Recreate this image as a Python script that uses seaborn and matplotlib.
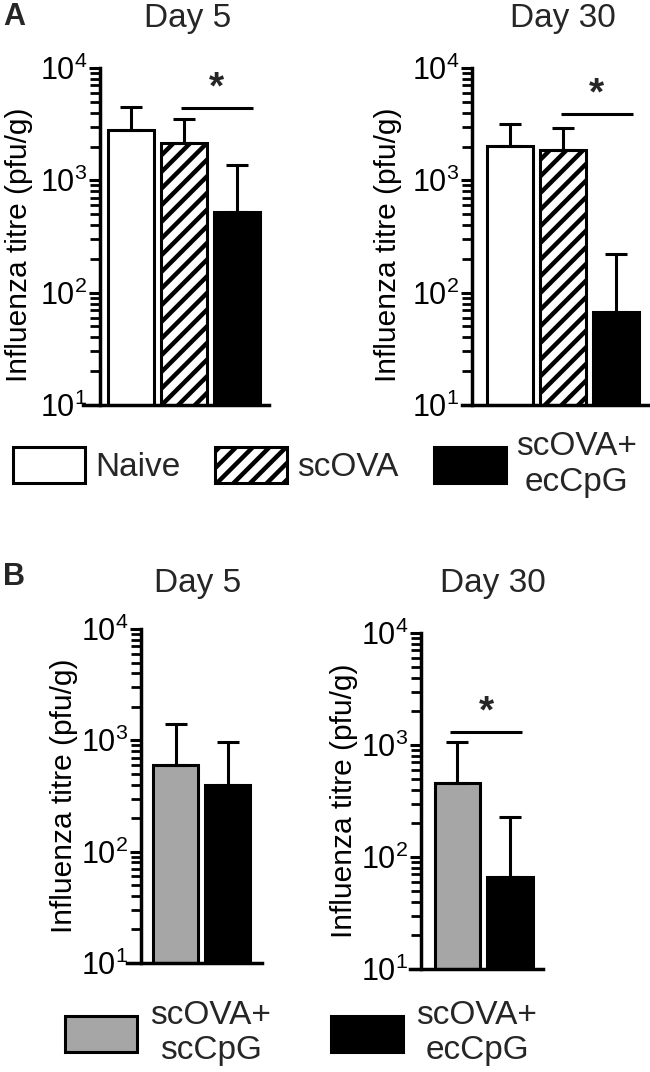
import numpy as np
import matplotlib
matplotlib.use("Agg")
import matplotlib.pyplot as plt
import matplotlib.transforms as mtransforms
from matplotlib.patches import Patch
from matplotlib.ticker import LogLocator, NullFormatter, FuncFormatter
import seaborn as sns

# ── data ───────────────────────────────────────────────────────────────────
groups_a = ["Naive", "scOVA", "scOVA+\necCpG"]
a_day5_mean = [2800, 2150, 525]
a_day5_upper = [4500, 3500, 1380]
a_day30_mean = [2030, 1870, 67]
a_day30_upper = [3180, 2930, 223]

groups_b = ["scOVA+\nscCpG", "scOVA+\necCpG"]
b_day5_mean = [603, 399]
b_day5_upper = [1406, 970]
b_day30_mean = [458, 66]
b_day30_upper = [1064, 228]

# significance bars: (x from, x to, y level)
sig_a5 = (0.93, 2.30, 4400)
sig_a30 = (0.95, 2.31, 3890)
sig_b30 = (-0.14, 1.23, 1306)

# ── style ──────────────────────────────────────────────────────────────────
sns.set_style("ticks")
plt.rcParams["font.family"] = ["Liberation Sans", "DejaVu Sans"]
plt.rcParams["mathtext.default"] = "regular"
plt.rcParams["hatch.linewidth"] = 3.2

FS = 24          # titles, legend
FS_TICK = 22
FS_YLAB = 21.5
LW = 2.2
colors_a = ["white", "white", "black"]
hatches_a = ["", "//", ""]
colors_b = ["#a6a6a6", "black"]
hatches_b = ["", ""]

W, H = 650, 1072
fig = plt.figure(figsize=(W / 100, H / 100), dpi=100)


def px_axes(left, right, top, bottom):
    return fig.add_axes([left / W, 1 - bottom / H, (right - left) / W, (bottom - top) / H])


def draw_panel(ax, groups, means, upper, colors, hatches, xlim, spine_x,
               title, title_x, title_pad, ylab_x, ylab_y, sig=None):
    ax.set_yscale("log")
    sns.barplot(x=groups, y=means, hue=groups, palette=colors, order=groups,
                hue_order=groups, width=0.87, edgecolor="black", linewidth=LW,
                saturation=1, legend=False, ax=ax)
    for patch, h in zip(ax.patches, hatches):
        patch.set_hatch(h)

    pos = np.arange(len(groups))
    means = np.asarray(means, dtype=float)
    upper = np.asarray(upper, dtype=float)
    ax.errorbar(pos, means, yerr=[np.zeros_like(means), upper - means],
                fmt="none", ecolor="black", elinewidth=LW, capsize=8,
                capthick=LW, zorder=3)

    ax.set_ylim(10, 1e4)
    ax.set_xlim(*xlim)
    ax.yaxis.set_major_locator(LogLocator(base=10))
    ax.yaxis.set_minor_locator(LogLocator(base=10, subs=np.arange(2, 10)))
    ax.yaxis.set_minor_formatter(NullFormatter())
    ax.yaxis.set_major_formatter(FuncFormatter(
        lambda v, p: r"$\mathregular{10^{%d}}$" % int(round(np.log10(v)))))
    ax.tick_params(axis="y", which="major", length=8, width=LW,
                   labelsize=FS_TICK, pad=1, color="black", labelcolor="black")
    ax.tick_params(axis="y", which="minor", length=7, width=2, color="black")
    ax.tick_params(axis="x", bottom=False, labelbottom=False)
    ax.set_xlabel("")

    sns.despine(ax=ax)
    ax.spines["left"].set_position(("data", spine_x))
    ax.spines["left"].set_bounds(10, 1e4)
    for s in ("left", "bottom"):
        ax.spines[s].set_linewidth(2.5)
        ax.spines[s].set_color("black")

    ax.set_ylabel("Influenza titre (pfu/g)", fontsize=FS_YLAB, color="black")
    ax.yaxis.set_label_coords(ylab_x, ylab_y,
                              transform=mtransforms.blended_transform_factory(
                                  fig.transFigure, ax.transAxes))
    ax.set_title(title, fontsize=FS, x=title_x, y=1.0, pad=title_pad)

    if sig is not None:
        x0, x1, yv = sig
        ax.plot([x0, x1], [yv, yv], color="black", lw=LW, solid_capstyle="butt",
                clip_on=False)
        ax.text((x0 + x1) / 2, yv * 1.03, "*", ha="center", va="bottom",
                fontsize=28, fontweight="bold")


# ── panel A ────────────────────────────────────────────────────────────────
ax1 = px_axes(83, 269, 68, 405)
draw_panel(ax1, groups_a, a_day5_mean, a_day5_upper, colors_a, hatches_a,
           (-0.91, 2.6), -0.589, "Day 5", 0.56, 29.5, 33 / W, 0.475, sig_a5)

ax2 = px_axes(462, 648, 68, 405)
draw_panel(ax2, groups_a, a_day30_mean, a_day30_upper, colors_a, hatches_a,
           (-0.91, 2.6), -0.72, "Day 30", 0.543, 29.5, 402 / W, 0.475, sig_a30)

# ── panel B ────────────────────────────────────────────────────────────────
ax3 = px_axes(127, 262, 629, 963)
draw_panel(ax3, groups_b, b_day5_mean, b_day5_upper, colors_b, hatches_b,
           (-0.94, 1.66), -0.67, "Day 5", 0.526, 26.6, 78 / W, 0.5)

ax4 = px_axes(410, 543, 633, 969)
draw_panel(ax4, groups_b, b_day30_mean, b_day30_upper, colors_b, hatches_b,
           (-0.905, 1.63), -0.695, "Day 30", 0.624, 29.5, 358 / W, 0.5, sig_b30)

# ── legends ────────────────────────────────────────────────────────────────
fs_px = FS * 100 / 72
handles_a = [Patch(facecolor=c, edgecolor="black", hatch=h, linewidth=LW)
             for c, h in zip(colors_a, hatches_a)]
leg_a = fig.legend(handles_a, groups_a, loc="center left",
                   bbox_to_anchor=(13 / W, 1 - 464.5 / H), ncol=3,
                   frameon=False, fontsize=FS, handlelength=72 / fs_px,
                   handleheight=43 / fs_px, handletextpad=0.3,
                   columnspacing=1.05, borderpad=0, borderaxespad=0)

handles_b = [Patch(facecolor=c, edgecolor="black", hatch=h, linewidth=LW)
             for c, h in zip(colors_b, hatches_b)]
leg_b = fig.legend(handles_b, groups_b, loc="center left",
                   bbox_to_anchor=(65 / W, 1 - 1033 / H), ncol=2,
                   frameon=False, fontsize=FS, handlelength=72 / fs_px,
                   handleheight=43 / fs_px, handletextpad=0.4,
                   columnspacing=1.8, borderpad=0, borderaxespad=0)
for leg in (leg_a, leg_b):
    for t in leg.get_texts():
        t.set_multialignment("center")

# panel letters
fig.text(3 / W, 1 - 17 / H, "A", fontsize=22, fontweight="bold", va="center")
fig.text(3 / W, 1 - 577 / H, "B", fontsize=22, fontweight="bold", va="center")

fig.savefig("out.png", dpi=100)
plt.close(fig)
